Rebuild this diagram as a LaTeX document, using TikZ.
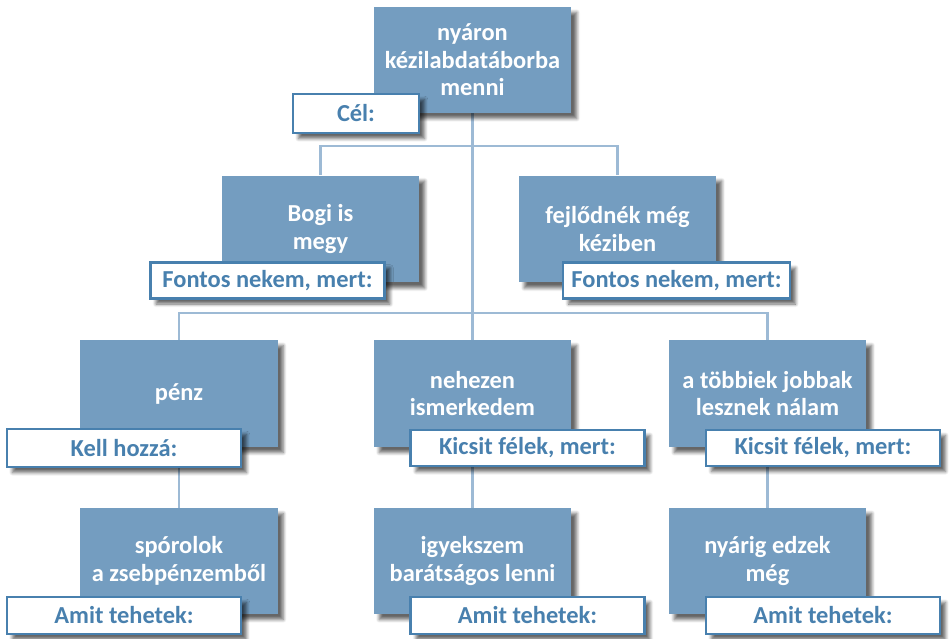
\documentclass[tikz,border=0pt]{standalone}
\usepackage{fontspec}
\setmainfont{Carlito}
\usetikzlibrary{shadows, shadows.blur, backgrounds}
\definecolor{boxblue}{RGB}{116,157,192}
\definecolor{labelblue}{RGB}{72,128,174}
\definecolor{lineblue}{RGB}{157,186,213}

\begin{document}
\begin{tikzpicture}[x=0.02cm, y=-0.02cm,
    goalbox/.style={fill=boxblue, text=white, inner sep=0pt, align=center,
        minimum width=3.95cm, minimum height=2.14cm,
        font=\bfseries\fontsize{13.9}{15.6}\selectfont,
        blur shadow={shadow xshift=0.11cm, shadow yshift=-0.11cm, shadow blur steps=6, shadow opacity=60}},
    tagbox/.style={fill=white, draw=labelblue, line width=1.3pt, text=labelblue, inner sep=0pt,
        minimum width=4.68cm, minimum height=0.72cm,
        font=\bfseries\fontsize{13.9}{15.6}\selectfont,
        blur shadow={shadow xshift=0.11cm, shadow yshift=-0.11cm, shadow blur steps=6, shadow opacity=60}},
    link/.style={draw=lineblue, line width=1.2pt}]
    \useasboundingbox (0,0) rectangle (951,639);

    % Top goal
    \node[goalbox, minimum height=2.12cm] (goal) at (472.5,60) {nyáron\\kézilabdatáborba\\menni};
    \node[tagbox, minimum width=2.52cm, minimum height=0.78cm] (cel) at (356,113.5) {Cél:};

    % Second row: why it matters
    \node[goalbox] (bogi) at (320.5,229) {Bogi is\\megy};
    \node[tagbox] (fontosA) at (267.5,280.5) {Fontos nekem, mert:};
    \node[goalbox] (fejl) at (617.5,229) {fejlődnék még\\kéziben};
    \node[tagbox, minimum width=4.54cm] (fontosB) at (676.5,280.5) {Fontos nekem, mert:};

    % Third row
    \node[goalbox] (penz) at (179,393.5) {pénz};
    \node[tagbox, minimum height=0.76cm] (kell) at (124,448) {Kell hozzá:};
    \node[goalbox] (nehez) at (472.5,393.5) {nehezen\\ismerkedem};
    \node[tagbox] (felekA) at (527.5,448) {Kicsit félek, mert:};
    \node[goalbox] (tobbiek) at (767.5,393.5) {a többiek jobbak\\lesznek nálam};
    \node[tagbox] (felekB) at (823,448) {Kicsit félek, mert:};

    % Bottom row: what I can do
    \node[goalbox, minimum height=2.12cm] (sporol) at (179,561) {spórolok\\a zsebpénzemből};
    \node[tagbox, minimum height=0.74cm] (amitA) at (124,615.5) {Amit tehetek:};
    \node[goalbox, minimum height=2.12cm] (igyek) at (472.5,561) {igyekszem\\barátságos lenni};
    \node[tagbox, minimum height=0.74cm] (amitB) at (527.5,615.5) {Amit tehetek:};
    \node[goalbox, minimum height=2.12cm] (edzek) at (767.5,561) {nyárig edzek\\még};
    \node[tagbox, minimum height=0.74cm] (amitC) at (823,615.5) {Amit tehetek:};

    % Connectors behind the boxes
    \begin{scope}[on background layer]
        \coordinate (busA) at (472.5,146);
        \coordinate (busB) at (472.5,313);
        \draw[link] (goal.south) -- (nehez.north);
        \draw[link] (bogi.north) |- (busA) -| (fejl.north);
        \draw[link] (penz.north) |- (busB) -| (tobbiek.north);
        \draw[link] (penz.center |- kell.south) -- (sporol.north);
        \draw[link] (nehez.center |- felekA.south) -- (igyek.north);
        \draw[link] (tobbiek.center |- felekB.south) -- (edzek.north);
    \end{scope}
\end{tikzpicture}
\end{document}
